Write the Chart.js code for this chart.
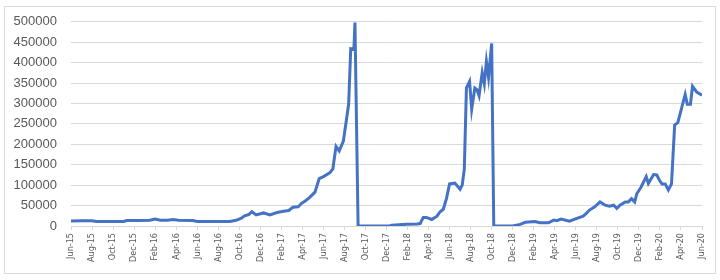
<!DOCTYPE html>
<html>
<head>
<meta charset="utf-8">
<script src="https://cdn.jsdelivr.net/npm/chart.js@4"></script>
<style>
html,body{margin:0;padding:0;background:#fff;}
#wrap{width:720px;height:280px;position:relative;}
</style>
</head>
<body>
<div id="wrap"><canvas id="c" width="720" height="280"></canvas></div>
<script>
// Month offsets from Jun-15 (0) to Jun-20 (60)
const monthOffsets = [0,1,2,2.4,3.5,5.0,5.3,6.5,7.5,8.0,8.5,9.2,9.7,10.2,11.6,12.0,13.5,15.1,15.7,16.2,16.5,16.9,17.2,17.6,18.3,18.9,19.6,20.2,20.7,21.1,21.6,21.9,22.3,22.7,23.2,23.6,24.0,24.6,24.9,25.2,25.5,25.9,26.4,26.6,26.9,27.0,27.3,30.3,30.5,31.9,32.9,33.2,33.5,33.8,34.3,34.8,35.1,35.4,35.7,36.0,36.5,37.0,37.2,37.4,37.6,37.9,38.1,38.4,38.6,38.8,39.1,39.3,39.5,39.7,40.0,40.2,42.0,42.7,43.2,43.8,44.1,44.6,45.4,45.9,46.2,46.6,47.4,48.1,48.7,49.0,49.3,49.8,50.3,50.8,51.2,51.6,51.9,52.2,52.7,53.0,53.3,53.6,53.8,54.2,54.7,54.9,55.4,55.7,56.0,56.2,56.5,56.8,57.1,57.4,57.7,58.4,58.6,58.9,59.1,59.5,60.0];
const values = [12000,13000,13000,11000,11000,11000,13500,13500,14000,17000,14000,14000,16000,14000,13500,11000,11000,11000,14000,19000,25000,28000,35000,27000,32000,27000,33000,36000,38000,46000,47000,55000,62000,70000,83000,116000,121000,130000,140000,195000,184000,208000,298000,434000,432000,498000,0,0,2000,4000,5000,6000,21000,21000,16000,24000,35000,41000,67000,103000,105000,90000,100000,140000,338000,354000,286000,338000,334000,319000,375000,348000,403000,364000,447000,0,0,4000,9000,10500,11000,8000,8000,14500,13000,17000,12000,18500,24000,31000,39000,47000,59000,51000,48500,51000,43000,51000,59000,59000,67000,59000,79000,95000,121000,104000,126000,125000,110000,103000,103000,88000,103000,247000,253000,322000,298000,298000,342000,328000,320000];
const tickLabels = ["Jun-15","Aug-15","Oct-15","Dec-15","Feb-16","Apr-16","Jun-16","Aug-16","Oct-16","Dec-16","Feb-17","Apr-17","Jun-17","Aug-17","Oct-17","Dec-17","Feb-18","Apr-18","Jun-18","Aug-18","Oct-18","Dec-18","Feb-19","Apr-19","Jun-19","Aug-19","Oct-19","Dec-19","Feb-20","Apr-20","Jun-20"];

const points = monthOffsets.map((m,i)=>({x:m,y:values[i]}));

const frame = {
  id:'frame',
  beforeDraw(chart){
    const ctx = chart.ctx;
    ctx.save();
    ctx.fillStyle='#ffffff';
    ctx.fillRect(0,0,chart.width,chart.height);
    ctx.strokeStyle='#d9d9d9';
    ctx.lineWidth=1;
    ctx.strokeRect(4.5,6.5,711,267);
    ctx.restore();
  }
};

new Chart(document.getElementById('c'),{
  type:'line',
  data:{datasets:[{
    data:points,
    borderColor:'#4472C4',
    borderWidth:3,
    pointRadius:0,
    tension:0,
    fill:false
  }]},
  options:{
    responsive:false,
    animation:false,
    layout:{padding:{left:0,right:18,top:20,bottom:0}},
    plugins:{legend:{display:false},tooltip:{enabled:false}},
    scales:{
      x:{
        type:'linear',min:0,max:60,
        afterFit(s){s.height=54;},
        grid:{drawOnChartArea:false,color:'#d9d9d9',tickLength:4,drawTicks:true},
        border:{display:true,color:'#d9d9d9'},
        ticks:{
          stepSize:2,autoSkip:false,maxRotation:90,minRotation:90,padding:3,
          color:'#595959',
          font:{family:"'Liberation Sans Narrow','DejaVu Sans Condensed','Liberation Sans',sans-serif",size:9},
          callback:(v)=>tickLabels[Math.round(v/2)]
        }
      },
      y:{
        min:0,max:500000,
        afterFit(s){s.width=71;},
        grid:{color:'#d9d9d9',drawTicks:false},
        border:{display:false},
        ticks:{stepSize:50000,padding:14,color:'#595959',
          font:{family:"'Liberation Sans',Arial,sans-serif",size:13},
          callback:(v)=>String(v)}
      }
    }
  },
  plugins:[frame]
});
</script>
</body>
</html>
